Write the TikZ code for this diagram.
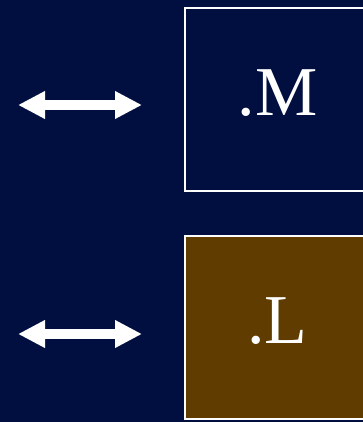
\documentclass[tikz,border=0pt]{standalone}
\usepackage{fontspec}
\setmainfont{Liberation Serif}
\usetikzlibrary{arrows.meta}
\definecolor{navy}{RGB}{0,15,64}
\definecolor{brownfill}{RGB}{96,60,0}
\tikzset{
  box/.style={draw=white, line width=2pt, minimum width=185pt, minimum height=183pt,
    inner sep=0pt, text=white, font=\fontsize{70}{70}\selectfont, text depth=14pt},
  dblarrow/.style={white, line width=10pt,
    {Triangle[width=26pt,length=27pt]}-{Triangle[width=26pt,length=27pt]}}
}
\begin{document}
\begin{tikzpicture}[x=1pt,y=-1pt]
\useasboundingbox (0,0) rectangle (363,422);
\fill[navy] (0,0) rectangle (363,422);
\begin{scope}
\clip (0,0) rectangle (363,422);
\node[box, fill=navy] (m) at (277.5,99.5) {.M};
\node[box, fill=brownfill] (l) at (277.5,327.5) {.L};
\coordinate (a1) at (18,105);
\coordinate (b1) at (142,105);
\coordinate (a2) at (18,334);
\coordinate (b2) at (142,334);
\draw[dblarrow] (a1) -- (b1);
\draw[dblarrow] (a2) -- (b2);
\end{scope}
\end{tikzpicture}
\end{document}
